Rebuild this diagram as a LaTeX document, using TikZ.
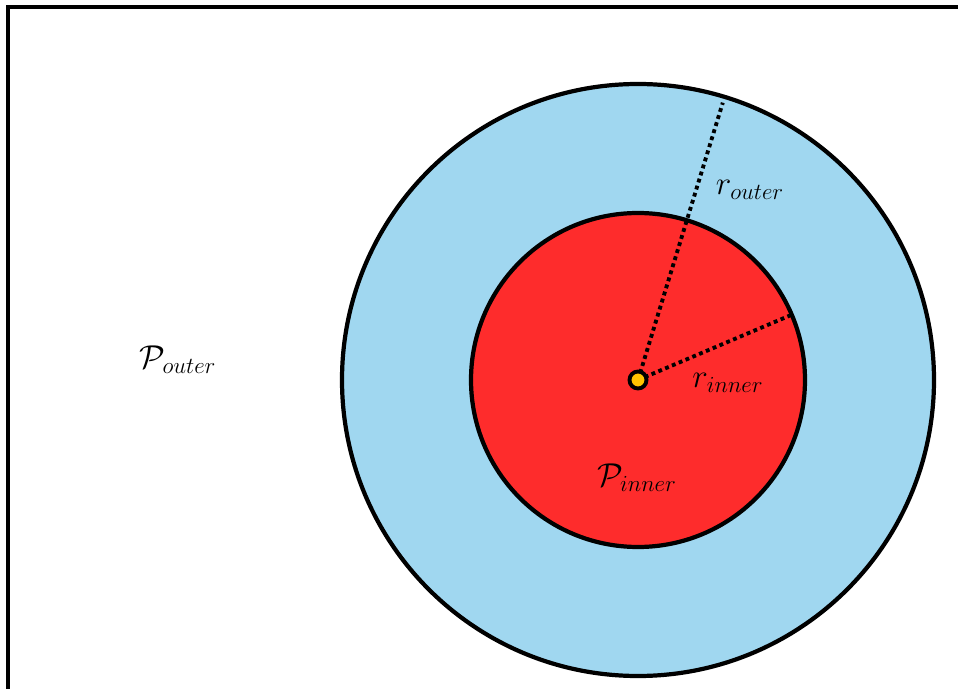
\documentclass[tikz,border=0pt]{standalone}
\usepackage{amsmath,amssymb}
\usepackage{xcolor}
\definecolor{ringblue}{HTML}{A0D7F0}
\definecolor{corered}{HTML}{FE2C2C}
\definecolor{dotyellow}{HTML}{FFC300}

\begin{document}
\begin{tikzpicture}[
    x=0.02cm, y=-0.02cm,
    rim/.style={draw=black, line width=2.4pt},
    radius line/.style={draw=black, line width=2.2pt, dotted},
    lbl/.style={font=\LARGE, scale=1.09, inner sep=0pt}
]
\useasboundingbox (0,0) rectangle (958,689);

% frame
\draw[line width=2.2pt] (8,689) -- (8,7) -- (958,7);

% discs
\coordinate (c) at (638,380);
\filldraw[rim, fill=ringblue] (c) circle[radius=296];
\filldraw[rim, fill=corered] (c) circle[radius=167];

% radii
\draw[radius line] (c) -- ++(-73:290);
\draw[radius line] (c) -- ++(-23:166);

% centre
\filldraw[line width=2.2pt, fill=dotyellow] (c) circle[radius=8.5];

% labels
\node[lbl] (pout) at (178,360) {$\mathcal{P}_{outer}$};
\node[lbl] (pin) at (637,478) {$\mathcal{P}_{inner}$};
\node[lbl] (rout) at (750,190) {$r_{outer}$};
\node[lbl] (rin) at (728,383) {$r_{inner}$};
\end{tikzpicture}
\end{document}
